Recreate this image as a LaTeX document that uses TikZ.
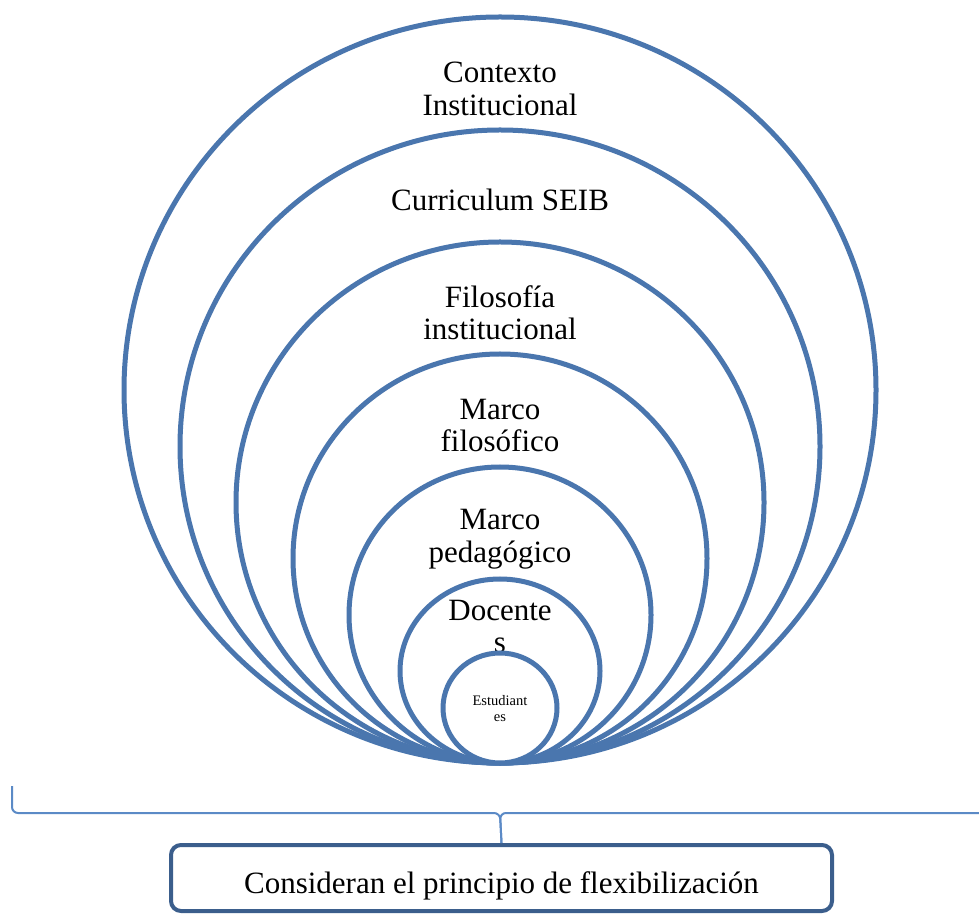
\documentclass[tikz,border=0pt]{standalone}
\usepackage{fontspec}
\setmainfont{Liberation Serif}
\usetikzlibrary{shapes.geometric}
\definecolor{ringblue}{HTML}{4A76AE}
\definecolor{braceblue}{HTML}{5B8AC6}
\definecolor{boxblue}{HTML}{3B5E8C}
\tikzset{
  ring/.style={ellipse, draw=ringblue, line width=5pt, fill=white, inner sep=0pt},
  ringlabel/.style={align=center, inner sep=0pt, font=\fontsize{31}{32.5}\selectfont},
  bracepart/.style={draw=braceblue, line width=2pt, rounded corners=6pt},
  resultbox/.style={draw=boxblue, line width=4pt, rounded corners=10pt,
    minimum width=661pt, minimum height=66pt, text height=32pt, text depth=2pt,
    font=\fontsize{31}{34}\selectfont}
}

\begin{document}
\begin{tikzpicture}[x=1pt,y=1pt]
  \useasboundingbox (0,0) rectangle (979,916);
  \clip (0,0) rectangle (979,901);

  % Nested rings, all touching at the bottom.
  \foreach \rx/\ry/\ly/\txt [count=\i] in {376/373/827/{Contexto\\Institucional},
      320/316.5/716/{Curriculum SEIB}, 264/260.5/603.5/{Filosofía\\institucional},
      207/204.5/490.5/{Marco\\filosófico}, 151/148/377/{Marco\\pedagógico},
      100/92/289.5/{Docente\\s}}
  {
    \node[ring, minimum width=2*\rx pt, minimum height=2*\ry pt] (ring\i) at (500,{153+\ry}) {};
    \node[ringlabel] (label\i) at (500,\ly) {\txt};
  }
  % Innermost ring hides the end of the label above it.
  \node[ring, minimum width=114pt, minimum height=110pt] (ring7) at (500,208) {};
  \node[align=center, inner sep=0pt, font=\fontsize{14.5}{16.5}\selectfont] (label7) at (500,207.5) {Estudiant\\es};

  % Brace down to the result.
  \node[resultbox] (principio) at (501.5,38) {Consideran el principio de flexibilización};
  \coordinate (braceL) at (12,130);
  \coordinate (braceR) at (988,130);
  \coordinate (bracemid) at (500,103);
  \draw[bracepart] (braceL) |- (bracemid) -- (principio.north);
  \draw[bracepart] (braceR) |- (bracemid) -- (principio.north);
\end{tikzpicture}
\end{document}
